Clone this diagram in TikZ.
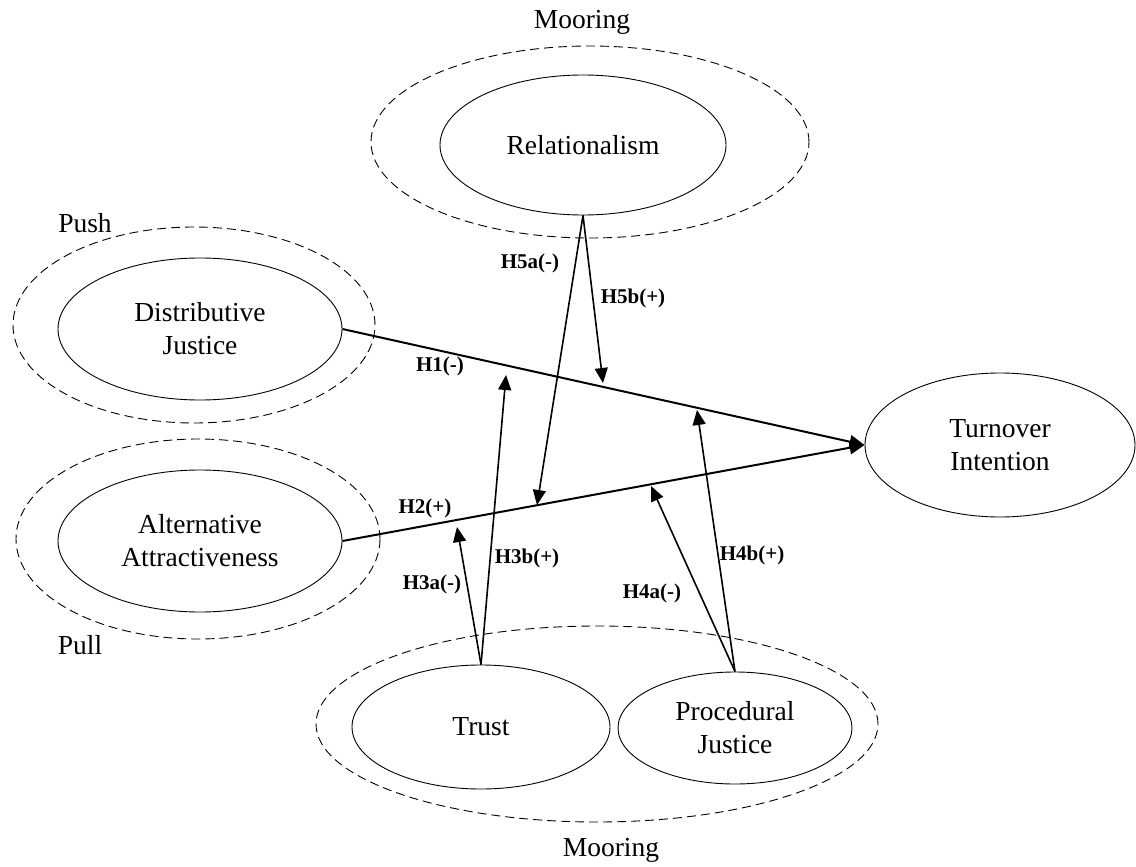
\documentclass[tikz,border=0pt]{standalone}
\usepackage{fontspec}
\setmainfont{Liberation Serif}
\usetikzlibrary{shapes.geometric,arrows.meta,calc}
\begin{document}
\begin{tikzpicture}[x=1pt,y=-1pt,
  construct/.style={draw, ellipse, line width=0.9pt, inner sep=0pt, align=center,
    font=\fontsize{27.5}{33}\selectfont},
  group/.style={draw, ellipse, dash pattern=on 9pt off 5pt, line width=0.9pt, inner sep=0pt},
  grouplabel/.style={font=\fontsize{27.5}{33}\selectfont, inner sep=0pt},
  hyp/.style={font=\fontsize{21}{25}\selectfont\bfseries, inner sep=0pt},
  mainarrow/.style={line width=2pt, -{Triangle[length=15pt,width=13pt]}},
  modarrow/.style={line width=1.6pt, -{Triangle[length=15pt,width=13pt]}},
]
\useasboundingbox[fill=white] (0,0) rectangle (1136,867);

% top mooring group
\node[group, minimum width=438pt, minimum height=192pt] (topgrp) at (590,142) {};
\node[construct, minimum width=286pt, minimum height=140pt] (Rel) at (583,145) {Relationalism};
\node[grouplabel] (mooringtop) at (582,22) {Mooring};

% push group
\node[group, minimum width=362pt, minimum height=196pt] (pushgrp) at (194,325) {};
\node[construct, minimum width=284pt, minimum height=142pt] (DJ) at (200,329) {Distributive\\Justice};
\node[grouplabel] (push) at (85,223) {Push};

% pull group
\node[group, minimum width=364pt, minimum height=200pt] (pullgrp) at (198,539) {};
\node[construct, minimum width=284pt, minimum height=142pt] (AA) at (200,541) {Alternative\\Attractiveness};
\node[grouplabel] (pull) at (80,645) {Pull};

% outcome
\node[construct, minimum width=270pt, minimum height=144pt] (TI) at (1000,445) {Turnover\\Intention};

% bottom mooring group
\node[group, minimum width=562pt, minimum height=196pt] (botgrp) at (597,724) {};
\node[construct, minimum width=258pt, minimum height=124pt] (Trust) at (481,727) {Trust};
\node[construct, minimum width=234pt, minimum height=112pt] (PJ) at (735,728) {Procedural\\Justice};
\node[grouplabel] (mooringbot) at (611,850) {Mooring};

% main paths
\draw[mainarrow] (DJ.east) -- (TI.west);
\draw[mainarrow] (AA.east) -- (TI.west);

% moderation targets
\coordinate (t5b) at (603,383);
\coordinate (t5a) at (537,505);
\coordinate (t3b) at (506,375);
\coordinate (t3a) at (457,527);
\coordinate (t4b) at (697,410);
\coordinate (t4a) at (651,486);

\draw[modarrow] (Rel.south) -- (t5b);
\draw[modarrow] (Rel.south) -- (t5a);
\draw[modarrow] (Trust.north) -- (t3b);
\draw[modarrow] (Trust.north) -- (t3a);
\draw[modarrow] (PJ.north) -- (t4b);
\draw[modarrow] (PJ.north) -- (t4a);

% hypothesis labels
\node[hyp] (h1) at (440,366) {H1(-)};
\node[hyp] (h2) at (425,508) {H2(+)};
\node[hyp] (h3a) at (432,584) {H3a(-)};
\node[hyp] (h3b) at (527,558) {H3b(+)};
\node[hyp] (h4a) at (652,593) {H4a(-)};
\node[hyp] (h4b) at (752,555) {H4b(+)};
\node[hyp] (h5a) at (530,263) {H5a(-)};
\node[hyp] (h5b) at (633,298) {H5b(+)};
\end{tikzpicture}
\end{document}
